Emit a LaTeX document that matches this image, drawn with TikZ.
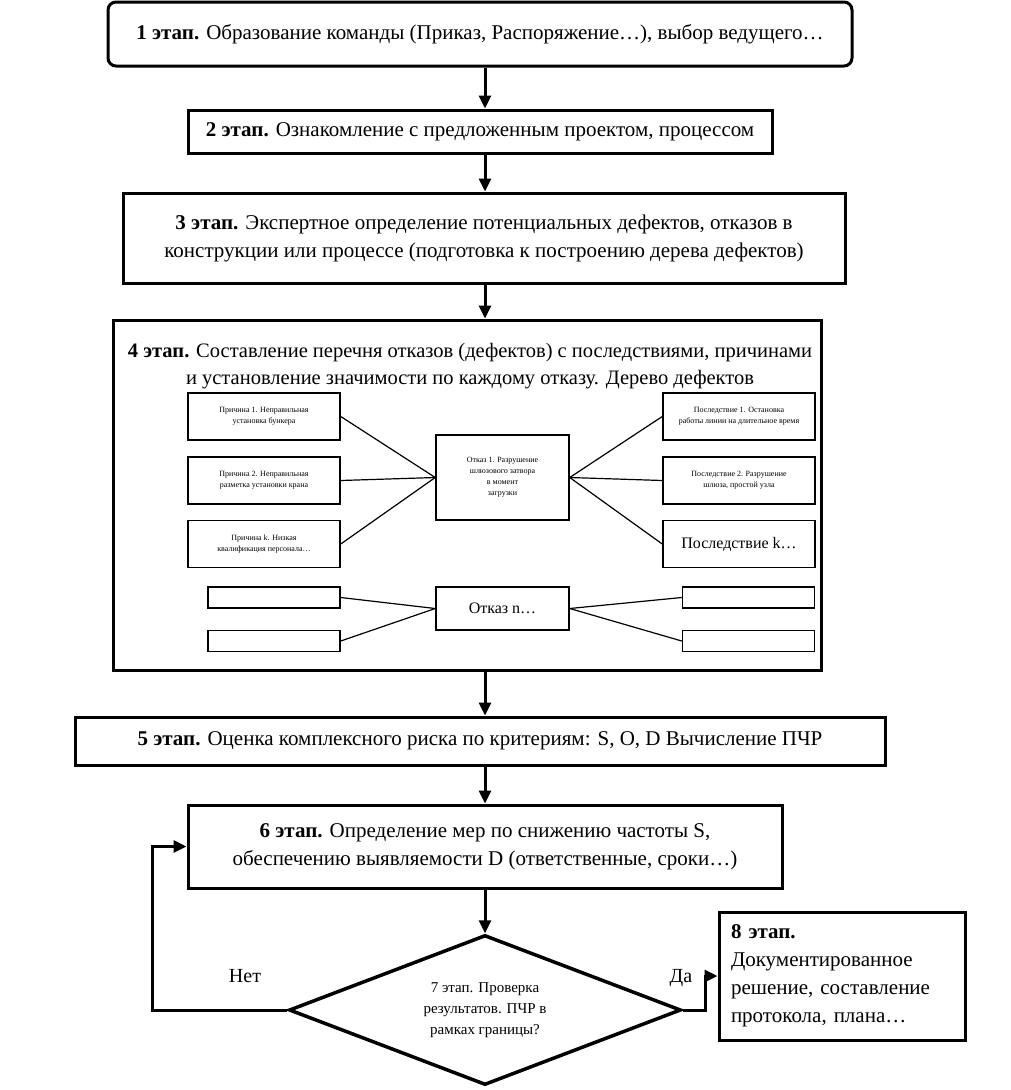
\documentclass[tikz,border=0pt]{standalone}
\usepackage{fontspec}
\setmainfont{Liberation Serif}
\usetikzlibrary{arrows.meta,shapes.geometric}
\begin{document}
\begin{tikzpicture}[x=1pt,y=-1pt,
  stagebox/.style={draw,line width=3pt,align=center,inner sep=0pt,font=\fontsize{21}{28}\selectfont},
  smallbox/.style={draw,line width=1.5pt,align=center,inner sep=0pt,minimum width=152pt,minimum height=47pt,font=\fontsize{8}{11}\selectfont},
  blankbox/.style={draw,line width=1.5pt,inner sep=0pt,minimum width=132pt,minimum height=21pt},
  arr/.style={line width=3pt,-{Triangle[length=13pt,width=12pt]}},
  link/.style={line width=1.2pt}]
\useasboundingbox (0,0) rectangle (1010,1090);
\node[stagebox,rounded corners=8pt,minimum width=744pt,minimum height=64pt] (stage1) at (480,34)
  {\raisebox{4pt}{\textbf{1 этап.} Образование команды (Приказ, Распоряжение…), выбор ведущего…}};
\node[stagebox,minimum width=584pt,minimum height=43pt] (stage2) at (480,131.5)
  {\textbf{2 этап.} Ознакомление с предложенным проектом, процессом};
\node[stagebox,minimum width=722pt,minimum height=90pt] (stage3) at (484,238)
  {\textbf{3 этап.} Экспертное определение потенциальных дефектов, отказов в\\
   конструкции или процессе (подготовка к построению дерева дефектов)};
\node[stagebox,minimum width=708pt,minimum height=350pt] (stage4) at (467,495) {};
\node[font=\fontsize{20.5}{27}\selectfont,align=center,inner sep=0pt] (title4) at (470,366)
  {\textbf{4 этап.} Составление перечня отказов (дефектов) с последствиями, причинами\\
   и установление значимости по каждому отказу. Дерево дефектов};
\node[smallbox] (cause1) at (264,416.5) {Причина 1. Неправильная\\ установка бункера};
\node[smallbox] (cause2) at (264,480.5) {Причина 2. Неправильная\\ разметка установки крана};
\node[smallbox] (cause3) at (264,544) {Причина k. Низкая\\ квалификация персонала…};
\node[smallbox,minimum width=133pt,minimum height=85pt] (fail1) at (502.5,477.5)
  {Отказ 1. Разрушение\\ шлюзового затвора\\ в момент\\ загрузки};
\node[smallbox] (effect1) at (739,416.5) {Последствие 1. Остановка\\ работы линии на длительное время};
\node[smallbox] (effect2) at (739,480.5) {Последствие 2. Разрушение\\ шлюза, простой узла};
\node[smallbox,font=\fontsize{16}{20}\selectfont] (effect3) at (739,544) {Последствие k…};
\node[blankbox] (causen1) at (274,597.5) {};
\node[blankbox] (causen2) at (274,641) {};
\node[smallbox,minimum width=133pt,minimum height=43pt,font=\fontsize{16}{20}\selectfont] (failn) at (502.5,608.5) {Отказ n…};
\node[blankbox] (effectn1) at (748.5,597.5) {};
\node[blankbox] (effectn2) at (748.5,641) {};
\node[stagebox,minimum width=810pt,minimum height=48pt] (stage5) at (480,741)
  {\textbf{5 этап.} Оценка комплексного риска по критериям: S, O, D Вычисление ПЧР};
\node[stagebox,minimum width=594pt,minimum height=83pt] (stage6) at (485,846.5)
  {\textbf{6 этап.} Определение мер по снижению частоты S,\\
   обеспечению выявляемости D (ответственные, сроки…)};
\node[draw,diamond,line width=3.5pt,shape aspect=2.6,inner sep=0pt,minimum width=392pt,minimum height=150pt,
  align=center,font=\fontsize{15}{21}\selectfont] (check7) at (485,1010)
  {7 этап. Проверка\\ результатов. ПЧР в\\ рамках границы?};
\node[stagebox,minimum width=246pt,minimum height=128pt,text width=222pt,align=left,
  font=\fontsize{21}{28}\selectfont] (stage8) at (842,976)
  {\textbf{8 этап.}\\ Документированное\\ решение, составление\\ протокола, плана…};
\coordinate (loopnet) at (152,1010);
\coordinate (turnda) at (705,1010);
\node[font=\fontsize{20}{24}\selectfont] (labnet) at (245,976) {Нет};
\node[font=\fontsize{20}{24}\selectfont] (labda) at (681,978) {Да};
\draw[arr] (stage1.south -| check7) -- (stage2.north -| check7);
\draw[arr] (stage2.south -| check7) -- (stage3.north -| check7);
\draw[arr] (stage3.south -| check7) -- (stage4.north -| check7);
\draw[arr] (stage4.south -| check7) -- (stage5.north -| check7);
\draw[arr] (stage5.south -| check7) -- (stage6.north -| check7);
\draw[arr] (stage6.south) -- (check7.north);
\draw[arr] (check7.west) -- (loopnet) |- (stage6.west);
\draw[arr] (check7.east) -- (turnda) |- (stage8.west);
\draw[link] (cause1.east) -- (fail1.west);
\draw[link] (cause2.east) -- (fail1.west);
\draw[link] (cause3.east) -- (fail1.west);
\draw[link] (effect1.west) -- (fail1.east);
\draw[link] (effect2.west) -- (fail1.east);
\draw[link] (effect3.west) -- (fail1.east);
\draw[link] (causen1.east) -- (failn.west);
\draw[link] (causen2.east) -- (failn.west);
\draw[link] (effectn1.west) -- (failn.east);
\draw[link] (effectn2.west) -- (failn.east);
\end{tikzpicture}
\end{document}
